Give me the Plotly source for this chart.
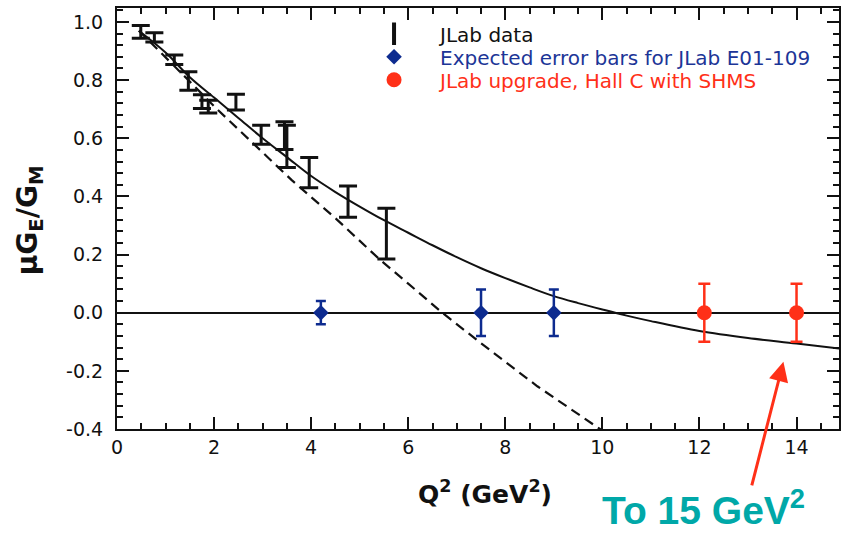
import plotly.graph_objects as go

# JLab polarization-transfer measurements of mu*G_E/G_M
jlab_q2 = [0.49, 0.77, 1.18, 1.47, 1.75, 1.88, 2.45, 2.97, 3.45, 3.50, 3.96, 4.76, 5.55]
jlab_ratio = [0.966, 0.947, 0.870, 0.797, 0.726, 0.709, 0.724, 0.612, 0.609, 0.572, 0.482, 0.382, 0.272]
jlab_err = [0.022, 0.016, 0.016, 0.032, 0.024, 0.022, 0.027, 0.033, 0.048, 0.073, 0.052, 0.054, 0.087]

# Projected uncertainties, experiment E01-109
e01_q2 = [4.2, 7.5, 9.0]
e01_ratio = [0.0, 0.0, 0.0]
e01_err = [0.04, 0.08, 0.08]

# Projected uncertainties, 12 GeV upgrade (Hall C, SHMS)
shms_q2 = [12.1, 14.0]
shms_ratio = [0.0, 0.0]
shms_err = [0.10, 0.10]

# Model curve (solid) sampled along Q^2
model_q2 = [0.45, 1.0, 1.5, 2.0, 2.5, 3.0, 3.5, 4.0, 4.5, 5.0, 5.5, 6.0, 6.5, 7.0, 7.5,
            8.0, 8.5, 9.0, 9.5, 10.0, 10.5, 11.0, 12.0, 13.0, 14.0, 14.9]
model_ratio = [0.97, 0.895, 0.81, 0.74, 0.67, 0.60, 0.535, 0.47, 0.415, 0.365, 0.318,
               0.275, 0.232, 0.191, 0.153, 0.119, 0.087, 0.057, 0.033, 0.011, -0.01,
               -0.029, -0.063, -0.087, -0.106, -0.124]

# Linear-type fit (dashed) sampled along Q^2
fit_q2 = [0.45, 1.0, 1.5, 2.0, 2.5, 3.0, 3.6, 4.5, 5.4, 6.0, 6.7, 7.5, 8.66, 9.95, 10.3]
fit_ratio = [0.97, 0.88, 0.795, 0.71, 0.63, 0.55, 0.456, 0.325, 0.185, 0.10, 0.0,
             -0.105, -0.253, -0.40, -0.44]

# Axis tick labels
x_tickvals = [0, 2, 4, 6, 8, 10, 12, 14]
x_ticktext = ["0", "2", "4", "6", "8", "10", "12", "14"]
y_tickvals = [-0.4, -0.2, 0.0, 0.2, 0.4, 0.6, 0.8, 1.0]
y_ticktext = ["-0.4", "-0.2", "0.0", "0.2", "0.4", "0.6", "0.8", "1.0"]

BLACK = "#111111"
NAVY = "#0d2b8f"
NAVY_TXT = "#1c3597"
RED = "#ff3018"
TEAL = "#00a8a8"
TICK_FONT = dict(family="DejaVu Sans", size=19, color="#111111")
LEG_FONT = dict(family="DejaVu Sans", size=20, color=BLACK)

fig = go.Figure()

fig.add_trace(go.Scatter(
    x=fit_q2, y=fit_ratio, mode="lines", line=dict(color=BLACK, width=2.2, dash="10px,6px"),
    showlegend=False, hoverinfo="skip"))
fig.add_trace(go.Scatter(
    x=model_q2, y=model_ratio, mode="lines", line=dict(color=BLACK, width=2, shape="spline"),
    showlegend=False, hoverinfo="skip"))

# JLab data drawn as bare error bars
fig.add_trace(go.Scatter(
    x=jlab_q2, y=jlab_ratio, mode="markers",
    marker=dict(size=1, color=BLACK, opacity=0),
    error_y=dict(type="data", array=jlab_err, color=BLACK, thickness=3, width=9),
    showlegend=False))
# legend entry for the data (vertical bar symbol)
fig.add_trace(go.Scatter(
    x=[None], y=[None], mode="markers", name="JLab data", legend="legend",
    marker=dict(symbol="line-ns-open", size=16, color=BLACK, line=dict(color=BLACK, width=4))))

fig.add_trace(go.Scatter(
    x=e01_q2, y=e01_ratio, mode="markers", legend="legend2",
    name="<span style='color:%s'>Expected error bars for JLab E01-109</span>" % NAVY_TXT,
    marker=dict(symbol="diamond", size=12, color=NAVY),
    error_y=dict(type="data", array=e01_err, color=NAVY, thickness=2.5, width=5)))

fig.add_trace(go.Scatter(
    x=shms_q2, y=shms_ratio, mode="markers", legend="legend3",
    name="<span style='color:%s'>JLab upgrade, Hall C with SHMS</span>" % RED,
    marker=dict(symbol="circle", size=15, color=RED),
    error_y=dict(type="data", array=shms_err, color=RED, thickness=2.5, width=6)))

axis_common = dict(
    showline=True, linecolor=BLACK, linewidth=2, mirror="ticks",
    ticks="inside", tickcolor=BLACK, tickwidth=2, ticklen=12,
    showgrid=False, tickfont=TICK_FONT, zeroline=False, tickmode="array",
)

fig.update_xaxes(
    range=[0, 14.875], tickvals=x_tickvals, ticktext=x_ticktext,
    minor=dict(dtick=0.5, tick0=0, ticks="inside", ticklen=6, tickcolor=BLACK, tickwidth=1.5),
    **axis_common)
fig.update_yaxes(
    range=[-0.4, 1.048], tickvals=y_tickvals, ticktext=y_ticktext,
    minor=dict(dtick=0.04, tick0=0, ticks="inside", ticklen=6, tickcolor=BLACK, tickwidth=1.5),
    ticklabelstandoff=8,
    **axis_common)
fig.update_yaxes(zeroline=True, zerolinecolor=BLACK, zerolinewidth=2)

legend_common = dict(x=0.32, xanchor="left", yanchor="top", font=LEG_FONT,
                     bgcolor="rgba(0,0,0,0)", itemwidth=82)

fig.update_layout(
    width=842, height=535,
    margin=dict(l=117, r=1, t=8, b=106),
    plot_bgcolor="white", paper_bgcolor="white",
    font=dict(family="DejaVu Sans", color=BLACK),
    legend=dict(y=0.985, **legend_common),
    legend2=dict(y=0.9305, **legend_common),
    legend3=dict(y=0.876, **legend_common),
    annotations=[
        dict(text="μG<sub>E</sub>/G<sub>M</sub>", xref="paper", yref="paper",
             x=-0.1215, y=0.4964, xanchor="center", yanchor="middle",
             textangle=-90, showarrow=False,
             font=dict(family="DejaVu Sans", size=28, color=BLACK, weight="bold")),
        dict(text="Q<sup>2</sup> (GeV<sup>2</sup>)", xref="paper", yref="paper",
             x=0.5097, y=-0.152, xanchor="center", yanchor="middle", showarrow=False,
             font=dict(family="DejaVu Sans", size=25, color=BLACK, weight="bold")),
        dict(text="To 15 GeV<sup>2</sup>", xref="paper", yref="paper",
             x=0.812, y=-0.186, xanchor="center", yanchor="middle", showarrow=False,
             font=dict(family="Liberation Sans", size=39, color=TEAL, weight="bold")),
        dict(text="", x=13.73, y=-0.169, xref="x", yref="y",
             ax=-32, ay=125, showarrow=True, arrowcolor=RED, arrowwidth=3,
             arrowhead=2, arrowsize=1.3, standoff=0),
    ],
)

fig.write_html("out.html")
